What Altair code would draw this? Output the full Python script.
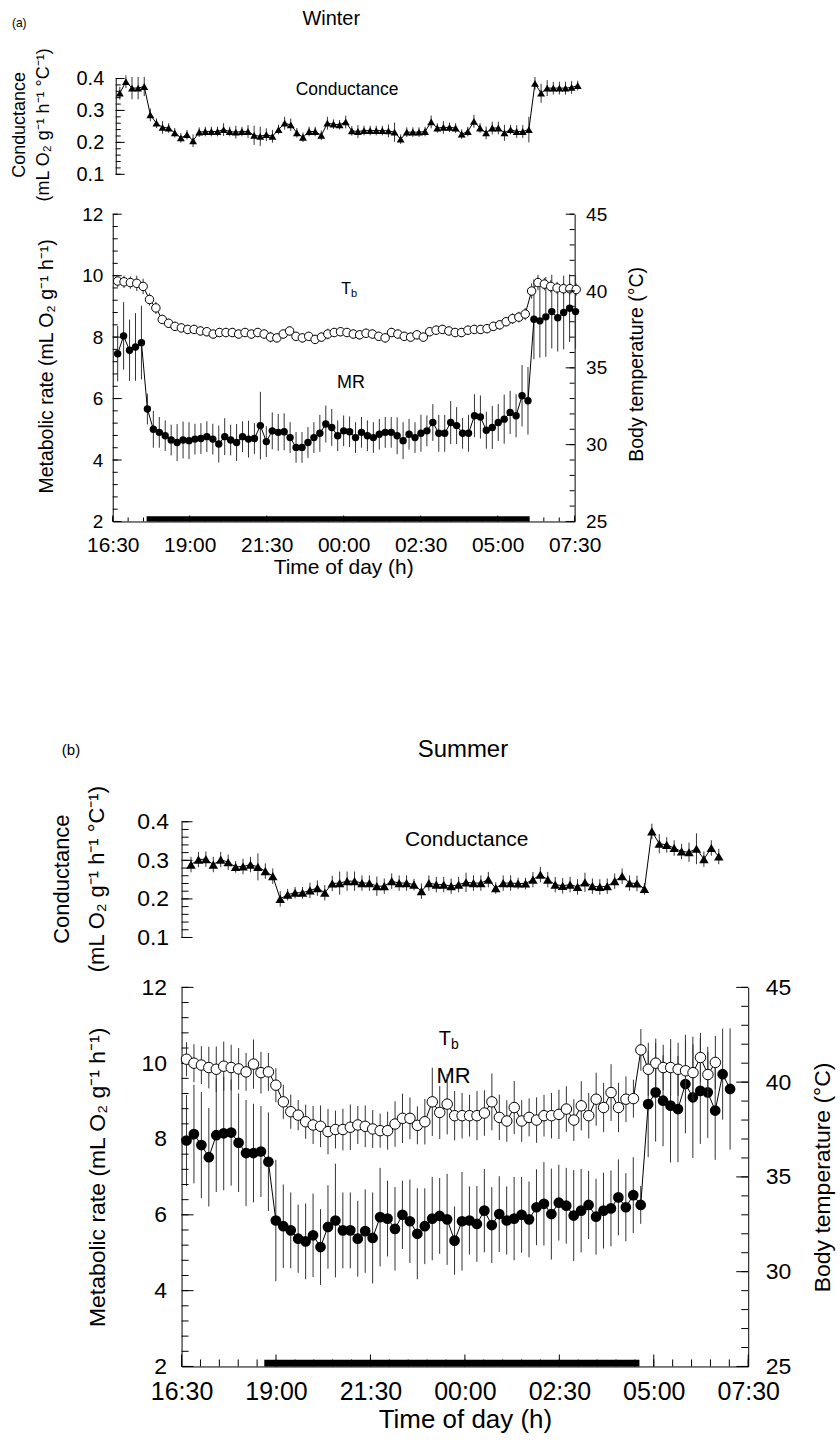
import json
import altair as alt
import pandas as pd

FONT = "Liberation Sans"

# ------------------------------------------------------------------ data
hour_values = [0, 2.5, 5, 7.5, 10, 12.5, 15]          # hours after 16:30
hour_labels = ["16:30", "19:00", "21:30", "00:00", "02:30", "05:00", "07:30"]

# ---- Winter (a)
w_cond = [0.354, 0.39, 0.37, 0.37, 0.375, 0.286, 0.26, 0.247, 0.245, 0.23,
          0.214, 0.224, 0.205, 0.232, 0.234, 0.234, 0.234, 0.24, 0.234, 0.232,
          0.234, 0.234, 0.222, 0.219, 0.224, 0.219, 0.24, 0.26, 0.255, 0.23,
          0.216, 0.234, 0.234, 0.222, 0.26, 0.257, 0.255, 0.264, 0.236, 0.234,
          0.237, 0.237, 0.237, 0.237, 0.236, 0.232, 0.21, 0.232, 0.232, 0.232,
          0.234, 0.264, 0.245, 0.247, 0.247, 0.245, 0.226, 0.234, 0.266, 0.245,
          0.23, 0.245, 0.245, 0.23, 0.24, 0.234, 0.234, 0.24, 0.385, 0.354,
          0.37, 0.37, 0.37, 0.37, 0.372, 0.378]
w_cond_se = [0.02, 0.02, 0.035, 0.035, 0.03, 0.02, 0.015, 0.02, 0.015, 0.015,
             0.015, 0.015, 0.02, 0.015, 0.015, 0.015, 0.015, 0.02, 0.015, 0.02,
             0.015, 0.02, 0.03, 0.03, 0.02, 0.02, 0.015, 0.02, 0.02, 0.015,
             0.015, 0.015, 0.015, 0.015, 0.02, 0.015, 0.015, 0.02, 0.015, 0.02,
             0.015, 0.015, 0.015, 0.015, 0.02, 0.03, 0.015, 0.015, 0.015, 0.015,
             0.015, 0.02, 0.015, 0.02, 0.015, 0.015, 0.015, 0.015, 0.02, 0.015,
             0.02, 0.02, 0.02, 0.025, 0.015, 0.02, 0.02, 0.04, 0.02, 0.03,
             0.025, 0.02, 0.02, 0.02, 0.02, 0.015]
w_cond_span = (0.23, 15.1)

w_tb = [40.65, 40.6, 40.55, 40.5, 40.3, 39.45, 38.9, 38.15, 37.9, 37.7,
        37.6, 37.5, 37.5, 37.4, 37.35, 37.2, 37.3, 37.3, 37.3, 37.2,
        37.3, 37.2, 37.3, 37.2, 37.0, 36.95, 37.2, 37.4, 37.05, 36.95,
        37.05, 36.85, 37.0, 37.2, 37.3, 37.35, 37.3, 37.2, 37.15, 37.25,
        37.2, 37.05, 36.95, 37.3, 37.2, 37.05, 37.0, 37.15, 37.0, 37.35,
        37.45, 37.5, 37.4, 37.3, 37.3, 37.45, 37.5, 37.5, 37.55, 37.7,
        37.8, 38.0, 38.2, 38.3, 38.5, 40.0, 40.55, 40.45, 40.3, 40.2,
        40.15, 40.15, 40.1]
w_tb_se = [0.4, 0.4, 0.4, 0.5, 0.5, 0.4, 0.4, 0.3, 0.3, 0.3,
           0.3, 0.3, 0.3, 0.3, 0.3, 0.3, 0.3, 0.3, 0.3, 0.3,
           0.3, 0.3, 0.3, 0.3, 0.35, 0.3, 0.3, 0.3, 0.3, 0.3,
           0.3, 0.3, 0.3, 0.35, 0.3, 0.3, 0.3, 0.3, 0.3, 0.3,
           0.3, 0.3, 0.3, 0.3, 0.3, 0.3, 0.3, 0.3, 0.3, 0.3,
           0.3, 0.3, 0.3, 0.3, 0.3, 0.3, 0.3, 0.3, 0.3, 0.3,
           0.3, 0.3, 0.35, 0.35, 0.4, 0.5, 0.5, 0.4, 0.4, 0.4,
           0.4, 0.4, 0.4]
w_tb_span = (0.16, 15.05)

w_mr = [7.46, 8.04, 7.57, 7.68, 7.82,
        5.66, 5.0, 4.9, 4.79, 4.65, 4.57, 4.65, 4.63, 4.68, 4.7,
        4.76, 4.68, 4.52, 4.76, 4.65, 4.57, 4.76, 4.68, 4.7, 5.12,
        4.6, 4.95, 4.9, 4.92, 4.73, 4.41, 4.41, 4.57, 4.73, 4.87,
        5.17, 5.06, 4.79, 4.95, 4.92, 4.73, 4.9, 4.79, 4.73, 4.84,
        4.9, 4.9, 4.79, 4.63, 4.84, 4.73, 4.87, 4.95, 5.22, 4.87,
        4.87, 5.22, 5.12, 4.87, 4.87, 5.44, 5.4, 4.97, 5.06, 5.22,
        5.33, 5.55, 5.44, 6.09, 5.93,
        8.58, 8.53, 8.66, 8.83, 8.63, 8.8, 8.94, 8.83]
w_mr_se = [0.9, 1.1, 1.0, 1.1, 1.2,
           0.5, 0.6, 0.5, 0.5, 0.5, 0.6, 0.6, 0.6, 0.5, 0.5,
           0.5, 0.5, 0.6, 0.6, 0.5, 0.6, 0.5, 0.6, 0.5, 1.1,
           0.5, 0.6, 0.6, 0.6, 0.5, 0.5, 0.5, 0.5, 0.5, 0.6,
           0.6, 0.6, 0.5, 0.5, 0.5, 0.5, 0.5, 0.5, 0.5, 0.5,
           0.5, 0.5, 0.6, 0.6, 0.5, 0.5, 0.6, 0.5, 0.6, 0.6,
           0.6, 0.7, 0.6, 0.5, 0.6, 0.7, 0.7, 0.6, 0.7, 0.6,
           0.8, 0.7, 0.7, 1.0, 1.1,
           1.3, 1.2, 1.3, 1.2, 1.1, 1.2, 1.1, 1.2]
w_mr_span = (0.16, 15.03)
w_dark = (1.1, 13.54)

# ---- Summer (b)
s_cond = [0.289, 0.302, 0.303, 0.289, 0.302, 0.295, 0.283, 0.284, 0.289, 0.283,
          0.272, 0.259, 0.2, 0.211, 0.216, 0.216, 0.222, 0.228, 0.216, 0.24,
          0.241, 0.246, 0.246, 0.241, 0.241, 0.233, 0.233, 0.246, 0.241, 0.241,
          0.237, 0.22, 0.241, 0.237, 0.237, 0.233, 0.237, 0.243, 0.241, 0.241,
          0.25, 0.228, 0.241, 0.241, 0.24, 0.24, 0.25, 0.263, 0.25, 0.237,
          0.234, 0.237, 0.231, 0.243, 0.233, 0.231, 0.233, 0.246, 0.259, 0.241,
          0.24, 0.226, 0.375, 0.343, 0.34, 0.332, 0.323, 0.321, 0.33, 0.303,
          0.332, 0.31]
s_cond_se = [0.02, 0.02, 0.02, 0.02, 0.02, 0.02, 0.015, 0.02, 0.02, 0.035,
             0.02, 0.02, 0.02, 0.015, 0.015, 0.015, 0.02, 0.02, 0.02, 0.02,
             0.03, 0.025, 0.025, 0.02, 0.02, 0.025, 0.02, 0.02, 0.02, 0.02,
             0.015, 0.02, 0.02, 0.02, 0.02, 0.02, 0.02, 0.025, 0.02, 0.02,
             0.02, 0.015, 0.02, 0.02, 0.015, 0.015, 0.02, 0.02, 0.02, 0.02,
             0.02, 0.02, 0.02, 0.025, 0.02, 0.02, 0.02, 0.02, 0.02, 0.02,
             0.02, 0.015, 0.02, 0.025, 0.02, 0.02, 0.02, 0.025, 0.04, 0.02,
             0.02, 0.02]
s_cond_span = (0.25, 14.22)

s_tb = [41.21, 41.0, 40.9, 40.77, 40.68, 40.84, 40.77, 40.7, 40.54, 40.95,
        40.5, 40.54, 39.84, 38.96, 38.44, 38.26, 37.91, 37.74, 37.67, 37.39,
        37.5, 37.5, 37.62, 37.74, 37.67, 37.53, 37.44, 37.44, 37.79, 38.09,
        38.09, 37.72, 37.91, 38.96, 38.4, 38.84, 38.23, 38.23, 38.23, 38.23,
        38.37, 38.96, 38.14, 37.95, 38.66, 37.95, 38.14, 38.0, 38.23, 38.23,
        38.3, 38.58, 38.0, 38.75, 38.23, 39.1, 38.66, 39.45, 38.66, 39.1,
        39.13, 41.7, 40.68, 41.0, 40.77, 40.77, 40.68, 40.6, 40.5, 41.3,
        40.4, 41.04]
s_tb_se = [0.9, 1.0, 1.0, 1.1, 1.2, 1.3, 1.2, 1.1, 1.0, 1.3,
           1.1, 1.0, 0.9, 0.9, 0.9, 0.8, 0.9, 1.0, 1.1, 1.2,
           1.0, 1.1, 1.2, 1.0, 1.1, 1.0, 0.9, 1.0, 1.2, 1.3,
           1.1, 1.0, 1.2, 1.8, 1.4, 1.6, 1.3, 1.2, 1.1, 1.3,
           1.2, 1.5, 1.2, 1.1, 1.4, 1.1, 1.0, 1.2, 1.1, 1.2,
           1.3, 1.2, 1.1, 1.3, 1.2, 1.4, 1.3, 1.5, 1.3, 1.2,
           1.0, 1.1, 1.4, 1.3, 1.2, 1.5, 1.4, 1.6, 1.5, 1.3,
           1.2, 1.4]
s_tb_span = (0.13, 14.13)

s_mr = [7.96, 8.13, 7.84, 7.52, 8.1, 8.15, 8.17, 7.9, 7.63, 7.63,
        7.67, 7.4,
        5.85, 5.7, 5.59, 5.37, 5.3, 5.46, 5.15, 5.68, 5.85, 5.59,
        5.59, 5.37, 5.57, 5.39, 5.94, 5.9, 5.63, 6.0, 5.83, 5.5,
        5.7, 5.9, 5.97, 5.88, 5.32, 5.83, 5.85, 5.76, 6.11, 5.73,
        6.02, 5.85, 5.9, 6.0, 5.88, 6.2, 6.29, 6.02, 6.32, 6.24,
        5.98, 6.11, 6.26, 5.95, 6.11, 6.17, 6.46, 6.2, 6.52, 6.26,
        8.92, 9.23, 9.01, 8.88, 8.79, 9.45, 9.1, 9.27, 9.23, 8.75, 9.71, 9.32]
s_mr_se = [1.2, 1.3, 1.4, 1.3, 1.5, 1.5, 1.4, 1.3, 1.4, 1.3,
           1.2, 1.3,
           1.6, 1.1, 1.0, 0.9, 1.0, 1.1, 1.0, 1.1, 1.5, 1.0,
           1.0, 1.0, 1.1, 1.2, 1.3, 1.0, 1.1, 0.9, 1.1, 1.2,
           1.0, 1.1, 1.0, 1.2, 0.9, 1.3, 0.9, 1.0, 1.1, 1.0,
           1.0, 0.9, 1.1, 1.0, 1.0, 1.0, 1.1, 1.2, 1.0, 1.0,
           1.2, 1.1, 0.9, 1.0, 1.0, 1.0, 1.0, 0.9, 1.0, 0.5,
           1.4, 1.3, 1.2, 1.5, 1.4, 1.3, 1.6, 1.4, 1.2, 1.3, 1.2, 1.6]
s_mr_span = (0.13, 14.52)
s_dark = (2.19, 12.12)

# ------------------------------------------------------------------ helpers
LABEL_EXPR = json.dumps(hour_labels) + "[round(datum.value / 2.5)]"


def series(vals, se, span):
    t0, t1 = span
    n = len(vals)
    rows = []
    for i, (v, s) in enumerate(zip(vals, se)):
        t = t0 + (t1 - t0) * i / (n - 1)
        rows.append({"t": t, "v": v, "lo": v - s, "hi": v + s})
    return pd.DataFrame(rows)


def steps(a, b, d):
    n = int(round((b - a) / d))
    return [round(a + d * i, 3) for i in range(n + 1)]


def hticks(values, Y, x0, length, sw=1):
    return alt.Chart(pd.DataFrame({"v": values})).mark_rule(color="black", strokeWidth=sw).encode(
        y=Y("v"), x=alt.value(x0), x2=alt.value(x0 + length))


def vticks(values, X, y0, length, sw=1):
    return alt.Chart(pd.DataFrame({"v": values})).mark_rule(color="black", strokeWidth=sw).encode(
        x=X("v"), y=alt.value(y0), y2=alt.value(y0 - length))


def text_at(t, v, s, X, Y, size, dx=0, dy=0):
    return alt.Chart(pd.DataFrame({"t": [t], "v": [v], "s": [s]})).mark_text(
        font=FONT, fontSize=size, color="black", align="center", baseline="middle", dx=dx, dy=dy
    ).encode(x=X("t"), y=Y("v"), text="s:N")


def text_px(x, y, s, size, align="center"):
    return alt.Chart(pd.DataFrame({"s": [s]})).mark_text(
        font=FONT, fontSize=size, color="black", align=align, baseline="middle"
    ).encode(x=alt.value(x), y=alt.value(y), text="s:N")


def yaxis(orient, offset, values, fmt, fs, pad, title, tfs, tx, ty, tlh=None):
    kw = dict(orient=orient, offset=offset, values=values, format=fmt, ticks=False, tickSize=0,
              domain=True, domainColor="black", domainWidth=1, grid=False,
              labelFont=FONT, labelFontSize=fs, labelColor="black", labelPadding=pad,
              labelFlush=False, labelOverlap=False,
              title=title, titleFont=FONT, titleFontSize=tfs, titleFontWeight="normal",
              titleColor="black", titleAngle=270, titleAlign="center", titleBaseline="middle",
              titleX=tx, titleY=ty)
    if tlh is not None:
        kw["titleLineHeight"] = tlh
    return alt.Axis(**kw)


def chan(cls, scale, axis):
    # every layer that shares a scale gets the very same axis definition
    def f(field):
        return cls(field + ":Q", scale=scale, axis=axis)
    return f


def cond_panel(df, g, header):
    xs = alt.Scale(domain=[0, 15], range=g["xr"])
    ys = alt.Scale(domain=[0.1, 0.4])
    ax = yaxis("left", g["coff"], [0.1, 0.2, 0.3, 0.4], ".1f", g["cfs"], g["cpad"],
               ["Conductance", "(mL O\u2082 g\u207b\u00b9 h\u207b\u00b9 \u00b0C\u207b\u00b9)"],
               g["ctfs"], g["ctx"], g["cty"], g["clh"])
    X = chan(alt.X, xs, None)
    Y = chan(alt.Y, ys, ax)
    err = alt.Chart(df).mark_rule(color="#333", strokeWidth=1).encode(
        x=X("t"), y=Y("lo"), y2="hi:Q")
    line = alt.Chart(df).mark_line(color="black", strokeWidth=1).encode(x=X("t"), y=Y("v"))
    pts = alt.Chart(df).mark_point(shape="triangle-up", filled=True, color="black",
                                   size=g["tri"], opacity=1).encode(x=X("t"), y=Y("v"))
    x0 = -g["coff"]
    layers = [err, line, pts,
              hticks(steps(0.1, 0.4, 0.02), Y, x0, g["cmin"]),
              hticks([0.1, 0.2, 0.3, 0.4], Y, x0, g["cmaj"]),
              text_at(g["clab"][0], g["clab"][1], "Conductance", X, Y, g["clabfs"])]
    layers += header
    return alt.layer(*layers).properties(width=g["W"], height=g["cH"])


def main_panel(mr_df, tb_df, dark, g):
    xs = alt.Scale(domain=[0, 15], range=g["xr"])
    yl = alt.Scale(domain=[2, 12])
    yr = alt.Scale(domain=[25, 45])
    W, H = g["W"], g["H"]
    xaxis = alt.Axis(values=hour_values, labelExpr=LABEL_EXPR, ticks=False, tickSize=0,
                     domainColor="black", domainWidth=1, grid=False,
                     labelFont=FONT, labelFontSize=g["fsx"], labelColor="black",
                     labelPadding=g["xpad"], labelFlush=False, labelOverlap=False,
                     title="Time of day (h)", titleFont=FONT, titleFontSize=g["xtfs"],
                     titleFontWeight="normal", titleColor="black",
                     titleX=g["xtx"], titleY=g["xty"], titleAlign="center", titleBaseline="middle")
    lax = yaxis("left", g["loff"], [2, 4, 6, 8, 10, 12], "d", g["fs"], g["lpad"],
                "Metabolic rate (mL O\u2082 g\u207b\u00b9 h\u207b\u00b9)", g["tfs"], g["ltx"], g["lty"])
    rax = yaxis("right", 0, [25, 30, 35, 40, 45], "d", g["fs"], g["rpad"],
                "Body temperature (\u00b0C)", g["tfs"], g["rtx"], g["rty"])
    X = chan(alt.X, xs, xaxis)
    YL = chan(alt.Y, yl, lax)
    YR = chan(alt.Y, yr, rax)

    dark_df = pd.DataFrame({"a": [dark[0]], "b": [dark[1]], "y0": [2.0], "y1": [g["barh"]]})
    bar = alt.Chart(dark_df).mark_rect(color="black").encode(
        x=X("a"), x2="b:Q", y=YL("y0"), y2="y1:Q")
    mr_err = alt.Chart(mr_df).mark_rule(color="#333", strokeWidth=1).encode(
        x=X("t"), y=YL("lo"), y2="hi:Q")
    mr_line = alt.Chart(mr_df).mark_line(color="black", strokeWidth=1).encode(x=X("t"), y=YL("v"))
    mr_pts = alt.Chart(mr_df).mark_point(shape="circle", filled=True, color="black",
                                         size=g["dot"], opacity=1).encode(x=X("t"), y=YL("v"))
    lx0 = -g["loff"]
    left = alt.layer(
        bar, mr_err, mr_line, mr_pts,
        hticks(steps(2, 12, 0.4), YL, lx0, g["ymin"]),
        hticks([2, 4, 6, 8, 10, 12], YL, lx0, g["ymaj"]),
        vticks(steps(0, 15, 0.5), X, H, g["xmin"]),
        vticks(hour_values, X, H, g["xmaj"]),
        text_at(g["mrlab"][0], g["mrlab"][1], "MR", X, YL, g["mrfs"]),
    )

    tb_err = alt.Chart(tb_df).mark_rule(color="#333", strokeWidth=1).encode(
        x=X("t"), y=YR("lo"), y2="hi:Q")
    tb_line = alt.Chart(tb_df).mark_line(color="black", strokeWidth=1).encode(x=X("t"), y=YR("v"))
    tb_pts = alt.Chart(tb_df).mark_point(shape="circle", filled=True, fill="white", stroke="black",
                                         strokeWidth=1, size=g["ring"], opacity=1).encode(
        x=X("t"), y=YR("v"))
    right = alt.layer(
        tb_err, tb_line, tb_pts,
        hticks(steps(25, 45, 1), YR, W, -g["ymin"]),
        hticks([25, 30, 35, 40, 45], YR, W, -g["ymaj"]),
        text_at(g["tblab"][0], g["tblab"][1], "T", X, YR, g["tfs_lab"]),
        text_at(g["tblab"][0], g["tblab"][1], "b", X, YR, g["bfs_lab"], dx=g["bdx"], dy=g["bdy"]),
    )
    return alt.layer(left, right).resolve_scale(y="independent").properties(width=W, height=H)


def spacer(h):
    return alt.Chart(pd.DataFrame({"z": [0]})).mark_point(opacity=0).encode(
        x=alt.X("z:Q", axis=None), y=alt.Y("z:Q", axis=None)).properties(width=10, height=h)


# ------------------------------------------------------------------ geometry / style
WG = dict(W=394, xr=[-69, 394], loff=69, H=308, cH=96, coff=66,
          fs=19, tfs=19.5, lpad=10, rpad=11, fsx=21, xpad=13, xtfs=21,
          ltx=-66, lty=152, rtx=62, rty=150, xtx=162, xty=46,
          ymin=5, ymaj=9, xmin=4, xmaj=6, barh=2.17,
          dot=55, ring=72, tri=62,
          cfs=20, cpad=12, ctfs=18, ctx=-96, cty=46, clh=24, cmin=5, cmaj=9,
          clab=(7.61, 0.3625), clabfs=17.5,
          mrlab=(7.74, 6.51), mrfs=18, tblab=(7.58, 40.13), tfs_lab=16, bfs_lab=11, bdx=8, bdy=5)
SG = dict(W=568, xr=[0, 568], loff=0, H=380, cH=116, coff=0,
          fs=23, tfs=23, lpad=15, rpad=17, fsx=25, xpad=13, xtfs=26,
          ltx=-84, lty=190, rtx=74, rty=190, xtx=284, xty=53,
          ymin=7, ymaj=12, xmin=7, xmaj=12, barh=2.18,
          dot=115, ring=110, tri=90,
          cfs=23, cpad=13, ctfs=22, ctx=-120, cty=57, clh=35, cmin=7, cmaj=11,
          clab=(7.55, 0.3534), clabfs=21,
          mrlab=(7.2, 9.66), mrfs=22, tblab=(6.97, 42.26), tfs_lab=20, bfs_lab=14, bdx=10, bdy=6)

w_header = [text_px(-170, -56, "(a)", 12, align="left"), text_px(150, -60, "Winter", 20)]
s_header = [text_px(-120, -72, "(b)", 15, align="left"), text_px(282, -72, "Summer", 24)]

wc = cond_panel(series(w_cond, w_cond_se, w_cond_span), WG, w_header)
wm = main_panel(series(w_mr, w_mr_se, w_mr_span), series(w_tb, w_tb_se, w_tb_span), w_dark, WG)
sc = cond_panel(series(s_cond, s_cond_se, s_cond_span), SG, s_header)
sm = main_panel(series(s_mr, s_mr_se, s_mr_span), series(s_tb, s_tb_se, s_tb_span), s_dark, SG)

chart = alt.vconcat(wc, spacer(40), wm, spacer(301), sc, spacer(50), sm,
                    spacing=0, bounds="flush").properties(
    padding={"left": 11, "top": 7, "right": 6, "bottom": 6},
    background="white",
).configure_view(stroke=None)

chart.save("out.html", embed_options={"renderer": "svg", "actions": False})
